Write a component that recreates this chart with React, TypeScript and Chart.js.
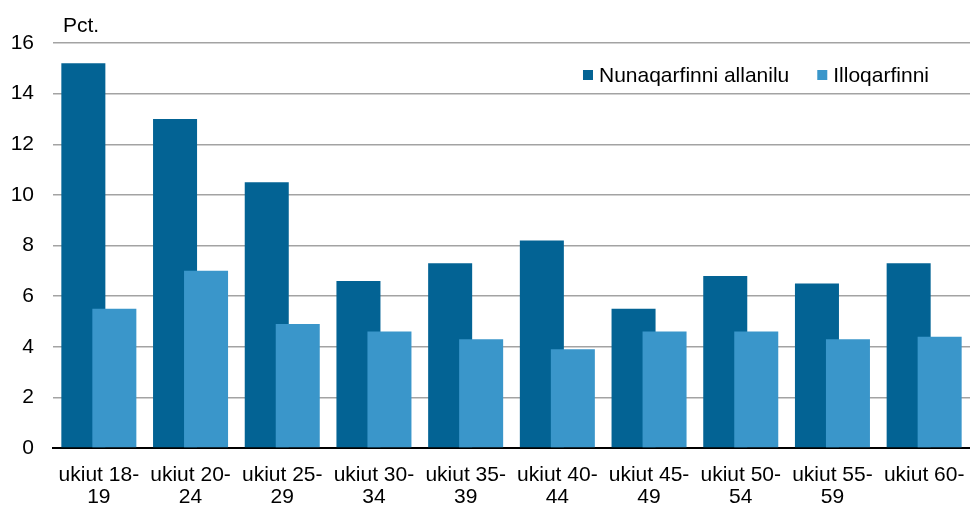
import React, { useEffect, useRef } from "react";
import { Chart, registerables } from "chart.js";

Chart.register(...registerables);

const categories: string[][] = [
  ["ukiut 18-", "19"],
  ["ukiut 20-", "24"],
  ["ukiut 25-", "29"],
  ["ukiut 30-", "34"],
  ["ukiut 35-", "39"],
  ["ukiut 40-", "44"],
  ["ukiut 45-", "49"],
  ["ukiut 50-", "54"],
  ["ukiut 55-", "59"],
  ["ukiut 60-"],
];
const seriesNames = ["Nunaqarfinni allanilu", "Illoqarfinni"];
const nunaqarfinni = [15.2, 13.0, 10.5, 6.6, 7.3, 8.2, 5.5, 6.8, 6.5, 7.3];
const illoqarfinni = [5.5, 7.0, 4.9, 4.6, 4.3, 3.9, 4.6, 4.6, 4.3, 4.4];
const yTicks = [0, 2, 4, 6, 8, 10, 12, 14, 16];
const unitLabel = "Pct.";

const DARK = "#036394";
const LIGHT = "#3a96ca";
const FONT = "'Liberation Sans', Arial, sans-serif";
const FS = 21;

const overlapPlugin = {
  id: "overlapShift",
  afterDatasetsUpdate(chart: any) {
    const xs = chart.scales.x;
    const cw = xs.width / chart.data.labels.length;
    chart.data.datasets.forEach((ds: any, i: number) => {
      const meta = chart.getDatasetMeta(i);
      meta.data.forEach((el: any) => {
        el.x += ds.side * cw * 0.169;
      });
    });
  },
};

const extrasPlugin = {
  id: "extras",
  afterDraw(chart: any) {
    const ctx = chart.ctx;
    const area = chart.chartArea;
    ctx.save();
    ctx.font = `${FS}px ${FONT}`;
    ctx.fillStyle = "#000";
    ctx.textBaseline = "alphabetic";
    ctx.textAlign = "left";
    ctx.fillText(unitLabel, area.left + 10, 32);

    // legend
    const box = 10;
    const gapBoxText = 6;
    const gapItems = 28;
    const items = chart.data.datasets.map((ds: any) => ({
      label: ds.label,
      color: ds.backgroundColor,
      w: ctx.measureText(ds.label).width,
    }));
    let total = 0;
    items.forEach((it: any, i: number) => {
      total += box + gapBoxText + it.w + (i > 0 ? gapItems : 0);
    });
    let x = area.right - 41 - total;
    const baseline = 82;
    items.forEach((it: any) => {
      ctx.fillStyle = it.color;
      ctx.fillRect(x, baseline - 12, box, box);
      ctx.fillStyle = "#000";
      ctx.fillText(it.label, x + box + gapBoxText, baseline);
      x += box + gapBoxText + it.w + gapItems;
    });
    ctx.restore();
  },
};

export default function App() {
  const ref = useRef<HTMLCanvasElement>(null);
  useEffect(() => {
    document.body.style.margin = "0";
    const chart = new Chart(ref.current as HTMLCanvasElement, {
      type: "bar",
      data: {
        labels: categories as any,
        datasets: [
          {
            label: seriesNames[0],
            data: nunaqarfinni,
            backgroundColor: DARK,
            order: 1,
            side: -1,
          } as any,
          {
            label: seriesNames[1],
            data: illoqarfinni,
            backgroundColor: LIGHT,
            order: 0,
            side: 1,
          } as any,
        ],
      },
      options: {
        animation: false,
        responsive: false,
        maintainAspectRatio: false,
        layout: { padding: { left: 12, top: 43, right: 0, bottom: 0 } },
        datasets: {
          bar: {
            grouped: false,
            categoryPercentage: 1,
            barPercentage: 0.48,
          },
        },
        plugins: {
          legend: { display: false },
          tooltip: { enabled: false },
          title: { display: false },
        },
        scales: {
          x: {
            offset: true,
            grid: { display: false, drawTicks: false },
            border: { display: true, color: "#000", width: 2 },
            afterFit(axis: any) {
              axis.paddingLeft = 0;
              axis.paddingRight = 0;
              axis.height = 57;
            },
            ticks: {
              color: "#000",
              font: { family: FONT, size: FS, lineHeight: 1.05 },
              padding: 16,
              maxRotation: 0,
              minRotation: 0,
              autoSkip: false,
            },
          },
          y: {
            min: 0,
            max: 16,
            afterBuildTicks(axis: any) {
              axis.ticks = yTicks.map((v) => ({ value: v }));
            },
            afterFit(axis: any) {
              axis.width = 41;
              axis.paddingTop = 0;
              axis.paddingBottom = 0;
            },
            grid: {
              drawTicks: false,
              lineWidth: 1.5,
              color: (c: any) => (c.tick && c.tick.value === 0 ? "rgba(0,0,0,0)" : "#a3a3a3"),
            },
            border: { display: false },
            ticks: {
              color: "#000",
              font: { family: FONT, size: FS },
              padding: 19,
            },
          },
        },
      },
      plugins: [overlapPlugin, extrasPlugin],
    });
    return () => chart.destroy();
  }, []);
  return (
    <div style={{ width: 970, height: 505 }}>
      <canvas ref={ref} width={970} height={505} style={{ display: "block" }} />
    </div>
  );
}
